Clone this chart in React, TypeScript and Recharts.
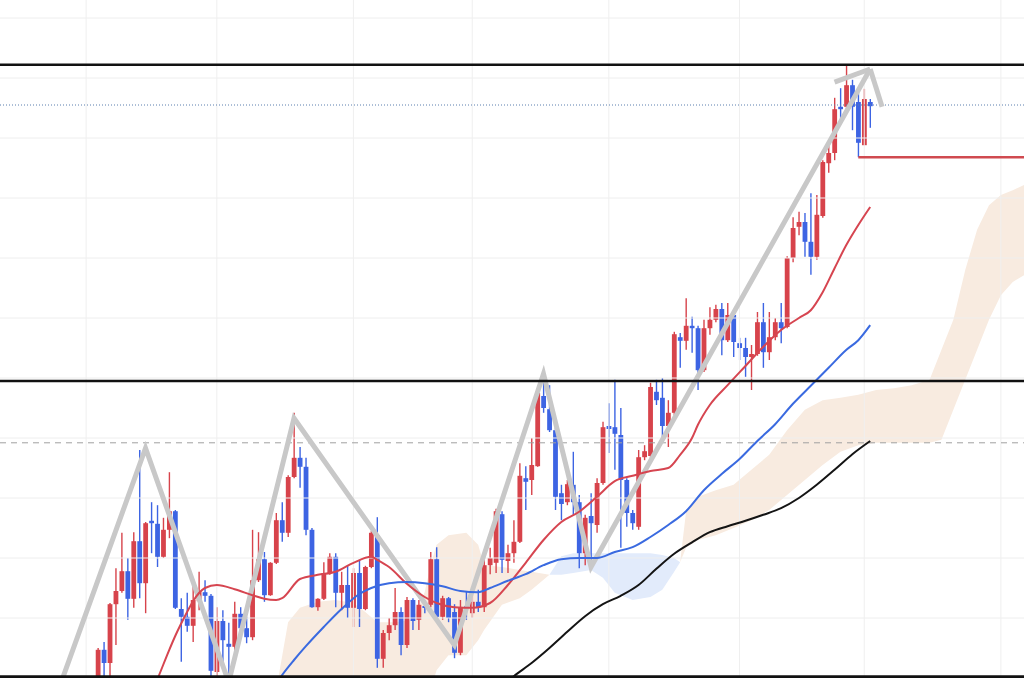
import { Area, Bar, ComposedChart, Line, ReferenceLine, XAxis, YAxis } from 'recharts';

// candle index 0..130, prices
const candleOpen = [
  98.0, 104.7, 102.5, 112.3, 114.5, 117.8, 113.2, 122.8, 115.8, 126.2,
  125.7, 120.2, 124.7, 127.8, 111.5, 110.2, 108.7, 112.8, 114.3, 113.7,
  101.0, 109.5, 105.7, 105.2, 110.7, 108.3, 106.8, 116.3, 119.8, 113.8,
  119.2, 126.3, 124.2, 133.5, 136.7, 135.2, 124.7, 111.8, 113.2, 117.5,
  120.2, 114.2, 115.5, 111.7, 117.5, 111.5, 118.5, 123.8, 103.2, 107.5,
  108.8, 111.0, 105.5, 113.0, 109.7, 112.0, 112.2, 119.8, 110.2, 113.3,
  111.0, 104.2, 112.0, 110.8, 112.7, 111.8, 118.8, 119.2, 127.3, 119.5,
  120.8, 122.7, 133.3, 133.0, 135.3, 147.0, 144.8, 141.3, 130.8, 129.3,
  132.2, 129.3, 120.8, 127.0, 125.5, 132.5, 142.0, 141.8, 140.5, 133.0,
  127.5, 125.2, 136.8, 137.0, 147.7, 146.7, 142.0, 144.2, 156.8, 156.2,
  158.7, 158.3, 151.3, 158.3, 159.7, 161.5, 156.3, 160.5, 155.8, 155.0,
  153.5, 154.0, 159.3, 154.3, 156.8, 159.3, 158.5, 170.0, 175.2, 176.0,
  172.7, 170.2, 177.0, 185.8, 187.5, 195.2, 195.2, 198.8, 196.0, 188.8, 196.0,
];
const candleClose = [
  104.7, 102.5, 112.3, 114.5, 117.8, 113.2, 122.8, 115.8, 125.8, 125.8,
  120.2, 124.7, 127.8, 111.7, 110.2, 108.7, 113.0, 114.3, 113.7, 101.2,
  109.5, 106.3, 105.2, 110.7, 108.3, 106.8, 116.3, 119.8, 113.8, 119.2,
  126.3, 124.2, 133.5, 136.7, 135.2, 124.7, 111.8, 113.2, 117.5, 120.2,
  114.2, 115.5, 111.7, 117.5, 111.5, 118.5, 124.2, 103.2, 107.5, 108.8,
  111.0, 105.5, 113.0, 109.5, 112.2, 111.7, 119.8, 110.2, 113.3, 110.0,
  104.2, 111.8, 111.7, 112.7, 111.8, 118.8, 120.0, 127.8, 119.7, 120.8,
  122.7, 133.7, 132.7, 135.5, 147.5, 145.0, 141.3, 130.2, 129.0, 132.3,
  129.3, 120.8, 126.7, 125.8, 132.5, 141.8, 141.5, 140.7, 133.0, 127.5,
  125.8, 136.8, 137.8, 148.5, 146.3, 142.0, 144.2, 157.3, 156.2, 158.7,
  158.3, 151.3, 158.3, 159.7, 161.5, 156.3, 160.5, 156.0, 155.0, 153.5,
  154.0, 159.3, 154.3, 156.8, 159.3, 158.3, 170.0, 175.0, 176.0, 172.7,
  170.2, 177.2, 186.0, 187.5, 194.8, 194.8, 198.8, 195.2, 189.2, 196.5, 195.3,
];
const candleHigh = [
  105.0, 106.0, 112.5, 118.3, 124.2, 120.0, 124.3, 138.0, 126.0, 129.3,
  128.8, 126.7, 134.3, 128.0, 113.3, 114.2, 115.8, 117.7, 116.3, 114.0,
  111.8, 111.3, 109.2, 112.7, 111.8, 110.2, 124.7, 124.3, 121.0, 119.3,
  127.5, 129.3, 133.8, 144.2, 138.5, 136.7, 125.0, 113.3, 119.3, 120.8,
  120.8, 117.7, 118.8, 118.3, 119.7, 118.7, 124.5, 126.8, 108.0, 110.0,
  115.0, 111.8, 113.5, 113.3, 113.0, 113.0, 121.0, 121.8, 113.7, 113.5,
  112.3, 113.0, 114.5, 113.8, 114.7, 120.8, 121.7, 128.2, 127.8, 122.2,
  126.3, 135.8, 135.3, 140.0, 148.0, 150.8, 148.8, 141.7, 132.2, 133.0,
  137.7, 130.5, 127.2, 130.8, 133.3, 142.7, 145.8, 149.7, 145.0, 133.3,
  128.0, 138.0, 138.8, 149.2, 149.7, 150.0, 146.3, 157.7, 157.5, 163.3,
  160.2, 158.7, 159.7, 161.8, 162.2, 162.5, 162.5, 161.0, 156.7, 156.7,
  155.5, 161.0, 162.5, 161.0, 160.0, 162.5, 170.3, 176.8, 177.7, 177.5,
  180.8, 180.5, 186.3, 189.2, 196.7, 198.3, 202.2, 199.7, 197.5, 198.2, 196.5,
];
const candleLow = [
  96.3, 100.2, 100.2, 105.5, 114.2, 109.7, 111.7, 113.3, 110.8, 120.8,
  118.5, 120.0, 123.3, 111.5, 102.7, 107.7, 106.0, 111.3, 112.7, 99.7,
  98.0, 102.5, 98.0, 103.0, 107.2, 105.8, 106.3, 116.0, 112.7, 113.7,
  119.0, 122.7, 123.5, 133.3, 131.7, 123.8, 111.7, 111.2, 113.0, 117.2,
  111.8, 111.3, 110.0, 108.5, 108.5, 111.3, 118.3, 101.7, 101.7, 106.3,
  108.0, 103.8, 105.0, 108.0, 108.0, 110.8, 111.8, 109.7, 109.7, 109.3,
  103.3, 103.8, 109.7, 110.0, 111.0, 111.0, 117.3, 117.5, 117.5, 117.5,
  119.2, 122.5, 128.0, 130.5, 135.2, 144.2, 141.0, 128.0, 126.3, 128.8,
  127.2, 118.3, 118.8, 118.5, 124.2, 132.2, 137.5, 134.7, 121.7, 125.2,
  124.7, 124.7, 136.3, 136.7, 145.5, 139.7, 138.5, 143.8, 151.7, 154.7,
  154.2, 148.0, 151.0, 157.2, 159.3, 153.8, 156.0, 153.5, 153.0, 150.2,
  148.0, 153.7, 151.7, 153.0, 156.3, 155.8, 158.3, 169.3, 173.8, 170.2,
  167.2, 169.7, 176.7, 184.2, 186.3, 193.0, 194.7, 191.3, 186.8, 188.8, 191.7,
];

// moving averages: [candle index, value]
const maFast = [
  [9, 97.5], [10, 99.8], [12, 104.7], [13, 107.0], [15, 111.0], [16, 112.8], [18, 115.0],
  [20, 115.5], [23, 114.8], [26, 113.8], [28, 113.2], [30, 113.0], [31, 113.3], [34, 116.5],
  [37, 117.2], [40, 117.7], [43, 119.2], [46, 120.2], [47, 119.7], [49, 118.5], [52, 115.7],
  [55, 113.5], [57, 112.5], [60, 111.8], [63, 111.7], [66, 112.5], [69, 115.5], [72, 119.2],
  [75, 123.0], [78, 126.0], [81, 127.7], [84, 130.2], [87, 132.8], [90, 133.7], [93, 134.5],
  [96, 135.0], [98, 137.2], [100, 140.0], [101, 142.2], [103, 145.5], [106, 148.8], [109, 152.0],
  [112, 155.2], [115, 158.0], [118, 160.0], [120, 161.3], [122, 164.3], [124, 168.3],
  [126, 172.2], [128, 175.5], [130, 178.5],
];
const maMid = [
  [29, 97.5], [31, 100.5], [33, 103.0], [35, 105.3], [38, 108.5], [41, 111.5], [44, 114.0],
  [46, 115.0], [49, 115.8], [52, 116.0], [55, 115.8], [58, 115.3], [61, 114.5], [64, 114.3],
  [66, 115.0], [69, 116.2], [72, 117.3], [75, 118.8], [78, 119.8], [81, 120.0], [84, 120.0],
  [87, 121.0], [90, 121.8], [93, 123.5], [96, 125.5], [99, 127.8], [102, 131.3], [105, 134.0],
  [108, 136.5], [111, 139.5], [114, 142.3], [117, 145.7], [120, 148.7], [123, 151.7],
  [126, 154.7], [128, 156.3], [130, 158.8],
];
const maSlow = [
  [69, 99.5], [70, 100.3], [73, 102.5], [76, 105.0], [79, 107.7], [82, 110.3], [85, 112.3],
  [88, 113.7], [91, 115.5], [94, 118.2], [97, 120.7], [100, 122.6], [103, 124.3], [106, 125.3],
  [109, 126.2], [112, 127.2], [115, 128.3], [118, 130.0], [121, 132.2], [124, 134.7],
  [127, 137.3], [130, 139.5],
];

// cloud bands: [index, lower, upper]
const cloudWarmEarly = [
  [30, 96.3, 98.0], [32, 96.3, 109.3], [34, 96.3, 111.7], [37, 96.3, 112.7], [40, 96.3, 113.0],
  [43, 96.3, 112.5], [45, 96.3, 111.0], [47, 96.3, 109.3], [50, 96.3, 109.3], [53, 96.3, 109.7],
  [55, 96.3, 114.3], [56, 98.0, 118.8], [57, 101.3, 122.2], [59, 103.8, 123.8], [62, 103.8, 124.2],
  [64, 106.3, 122.2], [65, 108.0, 118.8], [68, 112.2, 118.5], [71, 113.3, 118.0], [73, 114.7, 117.7],
  [76, 117.2, 117.2],
];
const cloudCool = [
  [76, 117.2, 117.2], [78, 117.2, 120.3], [80, 117.5, 120.8], [83, 118.0, 120.8], [85, 116.7, 120.8],
  [87, 114.2, 120.8], [90, 113.0, 120.8], [93, 113.5, 120.8], [95, 114.7, 120.5], [97, 117.7, 120.0],
  [98, 119.3, 119.3],
];
const cloudWarmLate = [
  [98, 119.3, 119.3], [99, 121.7, 127.7], [101, 123.0, 130.2], [104, 123.8, 131.3], [107, 125.0, 132.2],
  [110, 126.3, 134.7], [113, 128.0, 137.2], [116, 130.5, 141.3], [119, 133.0, 144.7],
  [122, 135.5, 146.3], [125, 137.7, 146.7], [128, 138.8, 147.2], [131, 139.2, 148.0],
  [134, 139.2, 148.3], [137, 139.2, 148.8], [140, 139.2, 149.7], [142, 139.7, 154.7],
  [144, 144.7, 159.7], [146, 149.7, 168.0], [148, 154.7, 174.7], [150, 159.7, 178.8],
  [152, 163.8, 180.5], [154, 166.0, 181.3], [156, 167.2, 182.2],
];

// hand-drawn wave line
const wave = [
  [-7, 97.1], [8, 138.3], [22, 99.3], [33, 143.3], [60, 105.5], [75, 150.7], [83, 118.5], [130, 201.5],
];

const gridPrices = [110, 120, 130, 140, 150, 160, 170, 180, 190, 200, 210];
const gridIndexes = [-2, 20, 43, 63, 86, 108, 129, 152];

const FIRST_INDEX = -16;
const LAST_INDEX = 156;

const UP = '#d7434b';
const DOWN = '#3d64e3';

function lookup(points: number[][]) {
  const m = new Map<number, number>();
  points.forEach(([i, v]) => m.set(i, v));
  return m;
}

function lookupBand(points: number[][]) {
  const m = new Map<number, number[]>();
  points.forEach(([i, lo, hi]) => m.set(i, [lo, hi]));
  return m;
}

const fastMap = lookup(maFast);
const midMap = lookup(maMid);
const slowMap = lookup(maSlow);
const waveMap = lookup(wave);
const warmEarlyMap = lookupBand(cloudWarmEarly);
const coolMap = lookupBand(cloudCool);
const warmLateMap = lookupBand(cloudWarmLate);

const rows: any[] = [];
for (let i = FIRST_INDEX; i <= LAST_INDEX; i++) {
  const has = i >= 0 && i < candleOpen.length;
  rows.push({
    i,
    range: has ? [candleLow[i], candleHigh[i]] : null,
    open: has ? candleOpen[i] : null,
    close: has ? candleClose[i] : null,
    fast: fastMap.get(i) ?? null,
    mid: midMap.get(i) ?? null,
    slow: slowMap.get(i) ?? null,
    wave: waveMap.get(i) ?? null,
    warmEarly: warmEarlyMap.get(i) ?? null,
    cool: coolMap.get(i) ?? null,
    warmLate: warmLateMap.get(i) ?? null,
  });
}

function Candle(props: any) {
  const { x, y, width, height, payload } = props;
  if (!payload || !payload.range) return null;
  const [low, high] = payload.range;
  const top = Math.min(y, y + height);
  const bottom = Math.max(y, y + height);
  if (high - low <= 0) return null;
  const perUnit = (bottom - top) / (high - low);
  const bodyTop = top + (high - Math.max(payload.open, payload.close)) * perUnit;
  const bodyBottom = top + (high - Math.min(payload.open, payload.close)) * perUnit;
  const cx = x + width / 2;
  const color = payload.close >= payload.open ? UP : DOWN;
  return (
    <g>
      <line x1={cx} x2={cx} y1={top} y2={bottom} stroke={color} strokeWidth={1.4} />
      <rect x={cx - 2.4} y={bodyTop} width={4.8} height={Math.max(bodyBottom - bodyTop, 2)} fill={color} />
    </g>
  );
}

export default function App() {
  return (
    <div style={{ position: 'absolute', left: 0, top: 0, width: 1024, height: 678, background: '#fff' }}>
      <ComposedChart width={1024} height={678} data={rows} margin={{ top: 0, right: -3.6, bottom: 0, left: 0 }}>
        <XAxis dataKey="i" type="category" hide />
        <YAxis type="number" domain={[100, 213]} allowDataOverflow hide />

        {gridPrices.map((p) => (
          <ReferenceLine key={`gy${p}`} y={p} stroke="#eeeeee" strokeWidth={1} />
        ))}
        {gridIndexes.map((i) => (
          <ReferenceLine key={`gx${i}`} x={i} stroke="#efefef" strokeWidth={1} />
        ))}

        <Area dataKey="warmEarly" type="linear" stroke="none" fill="#f8ebe0" fillOpacity={1} connectNulls isAnimationActive={false} />
        <Area dataKey="cool" type="linear" stroke="none" fill="#e2ebfb" fillOpacity={1} connectNulls isAnimationActive={false} />
        <Area dataKey="warmLate" type="linear" stroke="none" fill="#f8ebe0" fillOpacity={1} connectNulls isAnimationActive={false} />

        <ReferenceLine y={195.5} stroke="#5a7fae" strokeWidth={1} strokeDasharray="1 2" />
        <ReferenceLine y={139.2} stroke="#a0a0a0" strokeWidth={1} strokeDasharray="6 5" />

        <Line dataKey="wave" type="linear" stroke="#c8c8c8" strokeWidth={5} dot={false} connectNulls isAnimationActive={false} />
        <ReferenceLine segment={[{ x: 130, y: 201.5 }, { x: 124, y: 199.3 }]} stroke="#c8c8c8" strokeWidth={5} />
        <ReferenceLine segment={[{ x: 130, y: 201.5 }, { x: 132, y: 195.2 }]} stroke="#c8c8c8" strokeWidth={5} />

        <Bar dataKey="range" shape={(p: any) => <Candle {...p} />} isAnimationActive={false} />

        <Line dataKey="fast" type="monotone" stroke="#d64550" strokeWidth={2} dot={false} connectNulls isAnimationActive={false} />
        <Line dataKey="mid" type="monotone" stroke="#3a6ae0" strokeWidth={2} dot={false} connectNulls isAnimationActive={false} />
        <Line dataKey="slow" type="monotone" stroke="#141414" strokeWidth={2} dot={false} connectNulls isAnimationActive={false} />

        <ReferenceLine y={202.2} stroke="#111" strokeWidth={2.5} />
        <ReferenceLine y={149.5} stroke="#111" strokeWidth={2.5} />
        <ReferenceLine y={100.2} stroke="#111" strokeWidth={3} />
        <ReferenceLine segment={[{ x: 128, y: 186.8 }, { x: 156, y: 186.8 }]} stroke="#d04a50" strokeWidth={2.5} />
      </ComposedChart>
    </div>
  );
}
